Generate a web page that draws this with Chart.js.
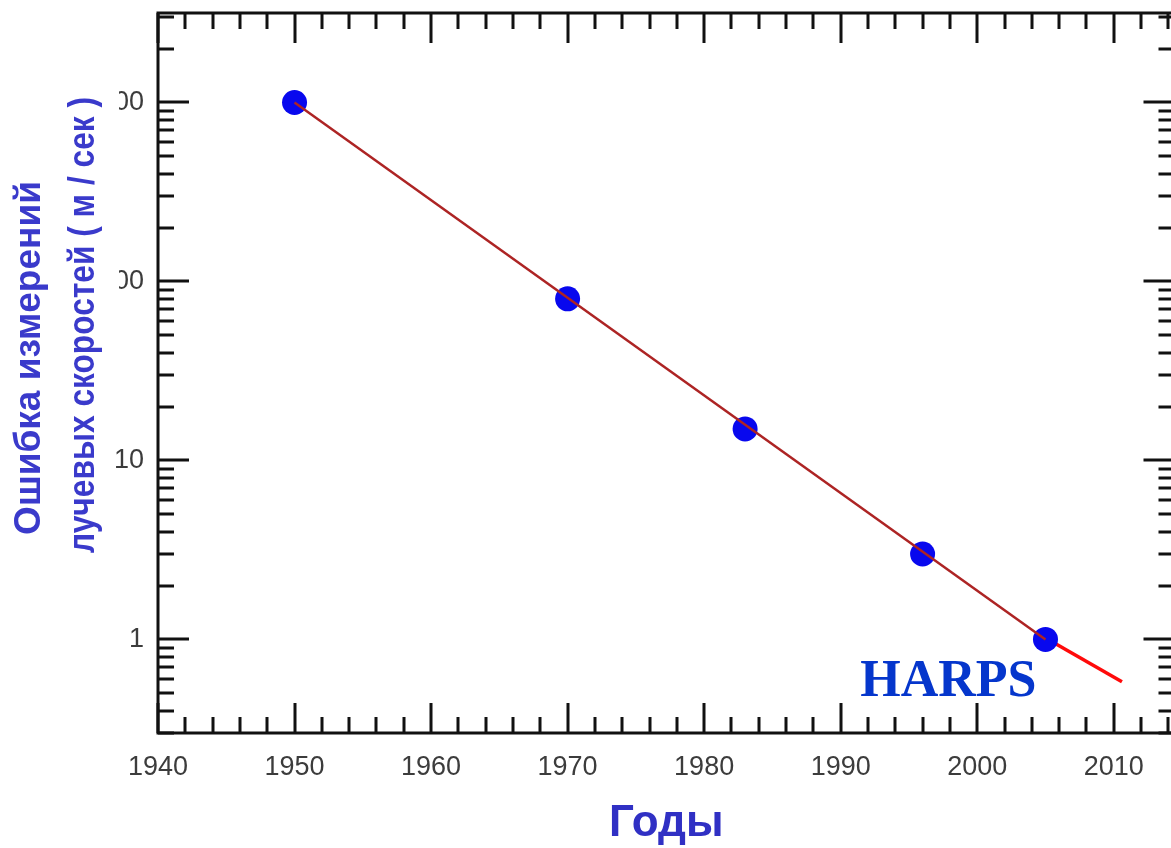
<!DOCTYPE html>
<html>
<head>
<meta charset="utf-8">
<script src="https://cdn.jsdelivr.net/npm/chart.js@4/dist/chart.umd.min.js"></script>
<style>
  html, body { margin: 0; padding: 0; background: #fff; overflow: hidden; }
  #rv-chart { display: block; }
</style>
</head>
<body>
<canvas id="rv-chart" width="1187" height="848"></canvas>
<script>
// measurement points: year and radial velocity error (m/s)
const years = [1950, 1970, 1983, 1996, 2005];
const errors = [1000, 80, 15, 3, 1];

// straight trend through the measurements (log scale)
const fitYears = [1950, 2005];
const fitErrors = [1000, 1];

// extension of the trend after HARPS
const trendYears = [2005.2, 2010.6];
const trendErrors = [1.0, 0.58];

// axis labels
const xTickValues = [1940, 1950, 1960, 1970, 1980, 1990, 2000, 2010];
const yTickValues = [1, 10, 100, 1000];

const yTitleLines = ['Ошибка измерений', 'лучевых скоростей ( м / сек )'];
const xTitle = 'Годы';
const harpsLabel = 'HARPS';

function toPoints(xs, ys) {
    return xs.map(function (x, i) { return { x: x, y: ys[i] }; });
}

// draws the frame, major/minor ticks on all four sides, y title and HARPS label
const framePlugin = {
    id: 'frame',
    afterDraw: function (chart) {
        const ctx = chart.ctx;
        const area = chart.chartArea;
        const xs = chart.scales.x;
        const ys = chart.scales.y;

        ctx.save();
        ctx.strokeStyle = '#111111';
        ctx.lineWidth = 3;
        ctx.lineCap = 'butt';

        // year ticks every 2 years, long every 10
        ctx.beginPath();
        for (let yr = 1940; yr <= xs.max; yr += 2) {
            const px = Math.round(xs.getPixelForValue(yr));
            const len = (yr % 10 === 0) ? 30 : 16;
            ctx.moveTo(px, area.bottom);
            ctx.lineTo(px, area.bottom - len);
            ctx.moveTo(px, area.top);
            ctx.lineTo(px, area.top + len);
        }
        // log ticks: long at decades, short at 2..9
        for (let d = -1; d <= 3; d++) {
            for (let m = 1; m <= 9; m++) {
                const v = m * Math.pow(10, d);
                if (v < ys.min || v > ys.max) continue;
                const py = Math.round(ys.getPixelForValue(v));
                const len = (m === 1) ? 31 : 16;
                ctx.moveTo(area.left, py);
                ctx.lineTo(area.left + len, py);
                ctx.moveTo(area.right, py);
                ctx.lineTo(area.right - len, py);
            }
        }
        ctx.stroke();
        ctx.strokeRect(area.left, area.top, area.right - area.left, area.bottom - area.top);

        // y title sits on a white box over the left labels
        ctx.fillStyle = '#ffffff';
        ctx.fillRect(60, 85, 59, 230);

        ctx.fillStyle = '#3a3acb';
        ctx.textAlign = 'center';
        ctx.textBaseline = 'middle';
        ctx.font = 'bold 37px "Liberation Sans", Arial, sans-serif';
        ctx.save();
        ctx.translate(30, 358);
        ctx.rotate(-Math.PI / 2);
        ctx.fillText(yTitleLines[0], 0, 0, 363);
        ctx.restore();
        ctx.save();
        ctx.translate(84, 325);
        ctx.rotate(-Math.PI / 2);
        ctx.fillText(yTitleLines[1], 0, 0, 456);
        ctx.restore();

        // HARPS label next to the last measurement
        const last = chart.getDatasetMeta(1).data[years.length - 1];
        ctx.fillStyle = '#0536cc';
        ctx.font = 'bold 52px "Liberation Serif", "Times New Roman", serif';
        ctx.textAlign = 'right';
        ctx.textBaseline = 'alphabetic';
        ctx.fillText(harpsLabel, last.x - 9, last.y + 57);
        ctx.restore();
    }
};

const ctx = document.getElementById('rv-chart').getContext('2d');
const rvChart = new Chart(ctx, {
    type: 'scatter',
    data: {
        datasets: [{
            label: 'fit',
            data: toPoints(fitYears, fitErrors),
            showLine: true,
            borderColor: '#ad2424',
            borderWidth: 2.5,
            pointRadius: 0
        }, {
            label: 'measurements',
            data: toPoints(years, errors),
            showLine: false,
            pointRadius: 12.5,
            pointBackgroundColor: '#0808ee',
            pointBorderColor: '#0808ee',
            pointBorderWidth: 0
        }, {
            label: 'trend',
            data: toPoints(trendYears, trendErrors),
            showLine: true,
            borderColor: '#ff0a0a',
            borderWidth: 3.5,
            pointRadius: 0
        }]
    },
    options: {
        responsive: false,
        animation: false,
        events: [],
        layout: { padding: { top: 13, right: 6, left: 0, bottom: 0 } },
        plugins: {
            legend: { display: false },
            tooltip: { enabled: false }
        },
        scales: {
            x: {
                type: 'linear',
                min: 1940,
                max: 2014.45,
                grid: { display: false, drawTicks: false },
                border: { display: false },
                afterBuildTicks: function (scale) {
                    scale.ticks = xTickValues.map(function (v) { return { value: v }; });
                },
                afterFit: function (scale) {
                    scale.height = 115;
                    scale.paddingLeft = 0;
                    scale.paddingRight = 0;
                },
                ticks: {
                    padding: 18,
                    maxRotation: 0,
                    autoSkip: false,
                    color: '#3c3c3c',
                    font: { family: '"Liberation Sans", Arial, sans-serif', size: 27 },
                    callback: function (v) { return String(v); }
                },
                title: {
                    display: true,
                    text: xTitle,
                    color: '#3030c4',
                    font: { family: '"Liberation Sans", Arial, sans-serif', size: 44, weight: 'bold', lineHeight: 1 },
                    padding: { top: 0, bottom: 2 }
                }
            },
            y: {
                type: 'logarithmic',
                min: Math.pow(10, -0.5),
                max: Math.pow(10, 3.5),
                grid: { display: false, drawTicks: false },
                border: { display: false },
                afterBuildTicks: function (scale) {
                    scale.ticks = yTickValues.map(function (v) { return { value: v }; });
                },
                afterFit: function (scale) {
                    scale.width = 158;
                    scale.paddingTop = 0;
                    scale.paddingBottom = 0;
                },
                ticks: {
                    padding: 14,
                    autoSkip: false,
                    color: '#3c3c3c',
                    font: { family: '"Liberation Sans", Arial, sans-serif', size: 27 },
                    callback: function (v) { return String(v); }
                }
            }
        }
    },
    plugins: [framePlugin]
});
</script>
</body>
</html>
